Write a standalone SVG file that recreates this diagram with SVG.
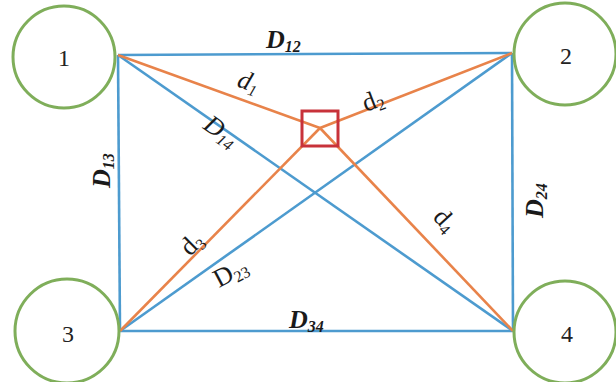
<svg xmlns="http://www.w3.org/2000/svg" width="616" height="382" viewBox="0 0 616 382">
<style>
.node{fill:#fff;stroke:#7fae5a;stroke-width:3}
.num{font-family:"Liberation Serif",serif;font-size:24px;fill:#222;text-anchor:middle}
.blue{stroke:#4d9bcf;stroke-width:2.6;fill:none}
.orange{stroke:#e8834a;stroke-width:2.6;fill:none}
.lbl{font-family:"Liberation Serif",serif;font-size:26px;fill:#1a1a1a}
.it{font-style:italic;font-weight:bold}
.itl{font-style:italic}
.sub{font-size:16px}
</style>
<rect width="616" height="382" fill="#fff"/>
<g id="connectors">
<line class="blue" x1="118" y1="55" x2="512" y2="53"/>
<line class="blue" x1="118" y1="55" x2="120" y2="331"/>
<line class="blue" x1="512" y1="53" x2="513" y2="331"/>
<line class="blue" x1="120" y1="331" x2="513" y2="331"/>
<line class="blue" x1="118" y1="55" x2="513" y2="331"/>
<line class="blue" x1="512" y1="53" x2="120" y2="331"/>
<line class="orange" x1="118" y1="55" x2="320" y2="128"/>
<line class="orange" x1="512" y1="53" x2="320" y2="128"/>
<line class="orange" x1="120" y1="331" x2="320" y2="128"/>
<line class="orange" x1="513" y1="331" x2="320" y2="128"/>
</g>
<g id="labels">
<text class="lbl it" x="266" y="48">D<tspan class="sub" dy="4">12</tspan></text>
<text class="lbl it" transform="translate(110,188) rotate(-90)">D<tspan class="sub" dy="4">13</tspan></text>
<text class="lbl it" transform="translate(543,218) rotate(-90)">D<tspan class="sub" dy="4">24</tspan></text>
<text class="lbl it" x="289" y="328">D<tspan class="sub" dy="4">34</tspan></text>
<text class="lbl itl" transform="translate(202,128) rotate(35)">D<tspan class="sub" dy="4">14</tspan></text>
<text class="lbl itl" transform="translate(236,86) rotate(20)">d<tspan class="sub" dy="4">1</tspan></text>
<text class="lbl" transform="translate(366,112) rotate(-21)">d<tspan class="sub" dy="4">2</tspan></text>
<text class="lbl" transform="translate(190,257) rotate(-45)">d<tspan class="sub" dy="4">3</tspan></text>
<text class="lbl" transform="translate(219,288) rotate(-28)">D<tspan class="sub" dy="4">23</tspan></text>
<text class="lbl" transform="translate(432,218) rotate(47)">d<tspan class="sub" dy="4">4</tspan></text>
</g>
<g id="box">
<rect x="302" y="111" width="36" height="35" fill="none" stroke="#c8323a" stroke-width="3"/>
</g>
<g id="n1"><circle class="node" cx="64" cy="57" r="51"/><text class="num" x="64" y="66">1</text></g>
<g id="n2"><circle class="node" cx="565" cy="54" r="51"/><text class="num" x="566" y="64">2</text></g>
<g id="n3"><circle class="node" cx="67" cy="331" r="52"/><text class="num" x="68" y="342">3</text></g>
<g id="n4"><circle class="node" cx="565" cy="332" r="51"/><text class="num" x="567" y="342">4</text></g>
</svg>
